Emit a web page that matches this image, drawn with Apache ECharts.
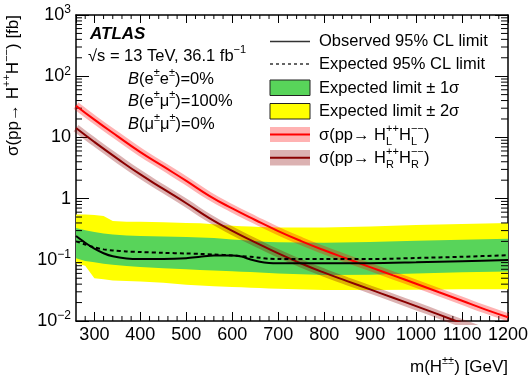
<!DOCTYPE html>
<html>
<head>
<meta charset="utf-8">
<script src="https://cdn.jsdelivr.net/npm/echarts@6/dist/echarts.min.js"></script>
<style>
  html, body { margin: 0; padding: 0; background: #fff; }
  #chart { width: 531px; height: 380px; }
</style>
</head>
<body>
<div id="chart"></div>
<script>
// theory cross sections [fb]
var xsecMass = [260, 300, 350, 400, 450, 500, 550, 600, 650, 700, 750, 800, 850, 900, 950, 1000, 1050, 1100, 1150, 1200];
var xsecL = [33, 19.5, 10.5, 5.75, 3.35, 1.95, 1.11, 0.69, 0.447, 0.295, 0.202, 0.143, 0.104, 0.076, 0.0556, 0.0407, 0.0295, 0.0214, 0.0155, 0.0115];
var xsecR = [14.2, 8.4, 4.5, 2.48, 1.44, 0.84, 0.48, 0.297, 0.193, 0.127, 0.087, 0.0616, 0.0448, 0.0328, 0.024, 0.0175, 0.0127, 0.0092, 0.0067, 0.005];

// 95% CL limits [fb]
var limitMass = [260, 280, 300, 320, 340, 370, 400, 450, 500, 530, 560, 600, 620, 640, 660, 680, 700, 800, 900, 1000, 1100, 1200];
var observed = [0.245, 0.19, 0.152, 0.128, 0.114, 0.105, 0.103, 0.103, 0.106, 0.112, 0.118, 0.118, 0.113, 0.101, 0.093, 0.089, 0.088, 0.088, 0.088, 0.091, 0.095, 0.099];
var expected = [0.20, 0.178, 0.16, 0.148, 0.142, 0.137, 0.134, 0.13, 0.127, 0.125, 0.122, 0.118, 0.115, 0.112, 0.108, 0.104, 0.103, 0.103, 0.103, 0.107, 0.112, 0.119];
var band1Hi = [0.33, 0.305, 0.285, 0.27, 0.258, 0.25, 0.245, 0.24, 0.235, 0.232, 0.228, 0.215, 0.21, 0.205, 0.2, 0.196, 0.193, 0.19, 0.195, 0.205, 0.213, 0.22];
var band1Lo = [0.106, 0.096, 0.091, 0.086, 0.083, 0.079, 0.076, 0.073, 0.07, 0.068, 0.067, 0.065, 0.064, 0.063, 0.062, 0.061, 0.06, 0.0565, 0.057, 0.06, 0.0625, 0.0645];
var band2Hi = [0.55, 0.55, 0.54, 0.52, 0.43, 0.42, 0.42, 0.41, 0.40, 0.395, 0.38, 0.36, 0.355, 0.35, 0.345, 0.34, 0.338, 0.338, 0.35, 0.37, 0.385, 0.40];
var band2Lo = [0.088, 0.08, 0.05, 0.048, 0.046, 0.045, 0.044, 0.042, 0.039, 0.038, 0.037, 0.0358, 0.0355, 0.035, 0.0345, 0.034, 0.0335, 0.032, 0.032, 0.0325, 0.033, 0.033];

var xMin = 260, xMax = 1200;
var yMin = 0.01, yMax = 1000;

var F = "'Liberation Sans', Arial, Helvetica, sans-serif";
var GREEN = '#58d45a';
var YELLOW = '#ffff00';
var RED = '#ff0000';
var DARKRED = '#8a0000';

// log minor tick positions (2..9 x decade)
var minorVals = [];
for (var d = -2; d < 3; d++) {
  for (var k = 2; k < 10; k++) minorVals.push(k * Math.pow(10, d));
}
// x minor ticks every 20 GeV (skip the labelled hundreds)
var xMinorVals = [];
for (var m = 280; m < xMax; m += 20) {
  if (m % 100 !== 0) xMinorVals.push(m);
}

var chart = echarts.init(document.getElementById('chart'));

function bandSeries(lo, hi, color) {
  return {
    type: 'custom',
    silent: true,
    data: [[limitMass[0], lo[0]]],
    renderItem: function (params, api) {
      var pts = [];
      for (var i = 0; i < limitMass.length; i++) pts.push(api.coord([limitMass[i], hi[i]]));
      for (var j = limitMass.length - 1; j >= 0; j--) pts.push(api.coord([limitMass[j], lo[j]]));
      return { type: 'polygon', shape: { points: pts }, style: { fill: color } };
    }
  };
}

function pairs(xs, ys) {
  return xs.map(function (x, i) { return [x, ys[i]]; });
}

var richTxt = {
  i: { fontSize: 16.5, fontFamily: F, fontStyle: 'italic', lineHeight: 24 },
  sup: { fontSize: 11, fontFamily: F, verticalAlign: 'top', lineHeight: 12 },
  sup0: { fontSize: 11, fontFamily: F, verticalAlign: 'top', lineHeight: 12, width: 0 },
  sub: { fontSize: 11, fontFamily: F, verticalAlign: 'bottom', lineHeight: 12, width: 13 }
};

function label(x, y, text, opt) {
  opt = opt || {};
  return {
    type: 'text', x: x, y: y, rotation: opt.rotation || 0, silent: true,
    style: {
      text: text, fill: '#000', fontFamily: F,
      fontSize: opt.fontSize || 16.5,
      fontWeight: opt.fontWeight || 'normal',
      fontStyle: opt.fontStyle || 'normal',
      lineHeight: 24,
      align: opt.align || 'left', verticalAlign: 'middle',
      rich: richTxt
    }
  };
}

var legendX = 270, legendTextX = 319;

var option = {
  animation: false,
  backgroundColor: '#fff',
  grid: { left: 76, right: 23, top: 15, bottom: 59, outerBoundsMode: 'none', containLabel: false },
  xAxis: [
    {
      type: 'value', min: xMin, max: xMax, splitNumber: 10, position: 'bottom',
      axisLine: { show: true, lineStyle: { color: '#000', width: 1.5 } },
      axisTick: { show: true, inside: true, length: 9, lineStyle: { color: '#000' } },
      axisLabel: {
        color: '#000', fontSize: 18, fontFamily: F, margin: 5, hideOverlap: false,
        formatter: function (v) { return String(v); }
      },
      splitLine: { show: false }
    },
    {
      type: 'value', min: xMin, max: xMax, splitNumber: 10, position: 'top',
      axisLine: { show: true, lineStyle: { color: '#000', width: 1.5 } },
      axisTick: { show: true, inside: true, length: 8, lineStyle: { color: '#000' } },
      axisLabel: { show: false },
      splitLine: { show: false }
    }
  ],
  yAxis: [
    {
      type: 'log', logBase: 10, min: yMin, max: yMax, position: 'left',
      axisLine: { show: true, lineStyle: { color: '#000', width: 1.5 } },
      axisTick: { show: true, inside: true, length: 13, lineStyle: { color: '#000' } },
      splitLine: { show: false },
      axisLabel: {
        margin: 5, color: '#000', fontFamily: F, fontSize: 18,
        formatter: function (v) {
          var e = Math.round(Math.log10(v));
          if (e === 0) return '{b|1}';
          if (e === 1) return '{b|10}';
          return '{b|10}{e|' + (e < 0 ? '\u2212' + (-e) : e) + '}';
        },
        rich: {
          b: { fontSize: 18, fontFamily: F, color: '#000', lineHeight: 22 },
          e: { fontSize: 12, fontFamily: F, color: '#000', verticalAlign: 'top', lineHeight: 12 }
        }
      }
    },
    {
      type: 'log', logBase: 10, min: yMin, max: yMax, position: 'right',
      axisLine: { show: true, lineStyle: { color: '#000', width: 1.5 } },
      axisTick: { show: true, inside: true, length: 13, lineStyle: { color: '#000' } },
      splitLine: { show: false },
      axisLabel: { show: false }
    }
  ],
  series: [
    bandSeries(band2Lo, band2Hi, YELLOW),
    bandSeries(band1Lo, band1Hi, GREEN),
    {
      type: 'line', data: pairs(xsecMass, xsecR), smooth: true, showSymbol: false, silent: true,
      lineStyle: { color: 'rgba(140,0,0,0.3)', width: 8, cap: 'butt' }
    },
    {
      type: 'line', data: pairs(xsecMass, xsecR), smooth: true, showSymbol: false, silent: true,
      lineStyle: { color: DARKRED, width: 2 }
    },
    {
      type: 'line', data: pairs(xsecMass, xsecL), smooth: true, showSymbol: false, silent: true,
      lineStyle: { color: 'rgba(255,0,0,0.3)', width: 8, cap: 'butt' }
    },
    {
      type: 'line', data: pairs(xsecMass, xsecL), smooth: true, showSymbol: false, silent: true,
      lineStyle: { color: RED, width: 2 }
    },
    {
      type: 'line', data: pairs(limitMass, expected), smooth: 0.3, showSymbol: false, silent: true,
      lineStyle: { color: '#000', width: 2, type: [4, 3] }
    },
    {
      type: 'line', data: pairs(limitMass, observed), smooth: 0.3, showSymbol: false, silent: true,
      lineStyle: { color: '#000', width: 2 }
    },
    {
      // log minor ticks on left and right frame
      type: 'custom', silent: true,
      data: minorVals.map(function (v) { return [xMin, v]; }),
      renderItem: function (params, api) {
        var v = api.value(1);
        var pl = api.coord([xMin, v]);
        var pr = api.coord([xMax, v]);
        return {
          type: 'group', children: [
            { type: 'line', shape: { x1: pl[0], y1: pl[1], x2: pl[0] + 6, y2: pl[1] }, style: { stroke: '#000', lineWidth: 1 } },
            { type: 'line', shape: { x1: pr[0], y1: pr[1], x2: pr[0] - 7, y2: pr[1] }, style: { stroke: '#000', lineWidth: 1 } }
          ]
        };
      }
    },
    {
      // x minor ticks on bottom and top frame
      type: 'custom', silent: true,
      data: xMinorVals.map(function (v) { return [v, yMin]; }),
      renderItem: function (params, api) {
        var v = api.value(0);
        var pb = api.coord([v, yMin]);
        var pt = api.coord([v, yMax]);
        return {
          type: 'group', children: [
            { type: 'line', shape: { x1: pb[0], y1: pb[1], x2: pb[0], y2: pb[1] - 5 }, style: { stroke: '#000', lineWidth: 1 } },
            { type: 'line', shape: { x1: pt[0], y1: pt[1], x2: pt[0], y2: pt[1] + 4 }, style: { stroke: '#000', lineWidth: 1 } }
          ]
        };
      }
    }
  ],
  graphic: [
    // axis titles
    label(13, 15, 'σ(pp→ H{sup|++}H{sup|\u2212\u2212}) [fb]', { rotation: Math.PI / 2, align: 'right', fontSize: 17 }),
    label(508, 367, 'm(H{sup|±±}) [GeV]', { align: 'right', fontSize: 17 }),
    // ATLAS labels
    label(90, 34, 'ATLAS', { fontWeight: 'bold', fontStyle: 'italic', fontSize: 17 }),
    label(88, 56, '√s = 13 TeV, 36.1 fb{sup|\u22121}'),
    label(128, 79, '{i|B}(e{sup|±}e{sup|±})=0%'),
    label(128, 101, '{i|B}(e{sup|±}μ{sup|±})=100%'),
    label(128, 124, '{i|B}(μ{sup|±}μ{sup|±})=0%'),
    // legend
    { type: 'line', silent: true, shape: { x1: legendX, y1: 41.5, x2: legendX + 40, y2: 41.5 }, style: { stroke: '#333', lineWidth: 1.5 } },
    label(legendTextX, 41, 'Observed 95% CL limit'),
    { type: 'line', silent: true, shape: { x1: legendX, y1: 64, x2: legendX + 40, y2: 64 }, style: { stroke: '#333', lineWidth: 1.5, lineDash: [3, 3] } },
    label(legendTextX, 64, 'Expected 95% CL limit'),
    { type: 'rect', silent: true, shape: { x: legendX, y: 80, width: 40, height: 15.5 }, style: { fill: GREEN, stroke: '#222', lineWidth: 1 } },
    label(legendTextX, 88, 'Expected limit ± 1σ'),
    { type: 'rect', silent: true, shape: { x: legendX, y: 103.5, width: 40, height: 15.5 }, style: { fill: YELLOW, stroke: '#222', lineWidth: 1 } },
    label(legendTextX, 111, 'Expected limit ± 2σ'),
    { type: 'rect', silent: true, shape: { x: legendX, y: 127, width: 40, height: 15 }, style: { fill: 'rgba(255,0,0,0.3)' } },
    { type: 'line', silent: true, shape: { x1: legendX, y1: 134.5, x2: legendX + 40, y2: 134.5 }, style: { stroke: RED, lineWidth: 2 } },
    label(legendTextX, 135, 'σ(pp→ H{sup0|++}{sub|L}H{sup0|\u2212\u2212}{sub|L})'),
    { type: 'rect', silent: true, shape: { x: legendX, y: 150, width: 40, height: 15.5 }, style: { fill: 'rgba(140,0,0,0.3)' } },
    { type: 'line', silent: true, shape: { x1: legendX, y1: 157.8, x2: legendX + 40, y2: 157.8 }, style: { stroke: DARKRED, lineWidth: 2 } },
    label(legendTextX, 158, 'σ(pp→ H{sup0|++}{sub|R}H{sup0|\u2212\u2212}{sub|R})')
  ]
};

chart.setOption(option);
</script>
</body>
</html>
